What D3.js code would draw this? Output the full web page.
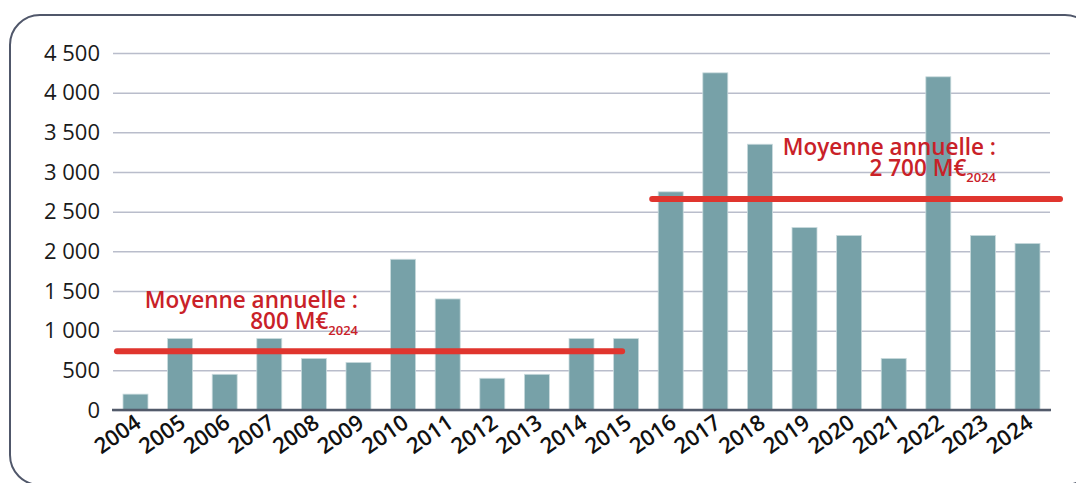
<!DOCTYPE html>
<html>
<head>
<meta charset="utf-8">
<script src="https://cdn.jsdelivr.net/npm/d3@7"></script>
<style>
  body { margin: 0; background: #fff; }
  svg { display: block; }
</style>
</head>
<body>
<div id="graph"></div>
<script>
var w = 1076;
var h = 483;

// data (M€ 2024)
var years = ["2004","2005","2006","2007","2008","2009","2010","2011","2012","2013","2014",
             "2015","2016","2017","2018","2019","2020","2021","2022","2023","2024"];
var values = [200, 900, 450, 900, 650, 600, 1900, 1400, 400, 450, 900,
              900, 2750, 4250, 3350, 2300, 2200, 650, 4200, 2200, 2100];
var yTicks = [0, 500, 1000, 1500, 2000, 2500, 3000, 3500, 4000, 4500];

// the two red average lines: first year, last year, drawn level
var avgFrom = ["2004", "2016"];
var avgTo = ["2015", "2024"];
var avgLevel = [740, 2660];
var avgLabel = ["800 M€", "2 700 M€"];

var plotLeft = 113, plotRight = 1050, plotTop = 53, plotBottom = 410;

var svg = d3.select("#graph").append("svg")
    .attr("width", w)
    .attr("height", h);

// rounded frame (its right and bottom edges run off the page)
svg.append("rect")
    .attr("x", 10).attr("y", 15)
    .attr("width", 1085).attr("height", 470)
    .attr("rx", 30).attr("ry", 30)
    .style("fill", "none")
    .style("stroke", "#50576a")
    .style("stroke-width", 2);

var x = d3.scaleBand()
    .domain(years)
    .range([plotLeft, plotRight])
    .paddingInner(0.44)
    .paddingOuter(0.224);

var y = d3.scaleLinear()
    .domain([0, 4500])
    .range([plotBottom, plotTop]);

// gridlines + y labels
var yAxis = d3.axisLeft(y)
    .tickValues(yTicks)
    .tickSize(-(plotRight - plotLeft))
    .tickPadding(13)
    .tickFormat(function(d){
        return d3.format(",")(d).replace(/,/g, " ");
    });

var gy = svg.append("g")
    .attr("transform", "translate(" + plotLeft + ",0)")
    .call(yAxis);
gy.select(".domain").remove();
gy.selectAll(".tick line")
    .style("stroke", "#b9bdcb")
    .style("stroke-width", 1.5);
gy.selectAll(".tick text")
    .style("font-family", "'Open Sans', sans-serif")
    .style("font-size", "22px")
    .style("fill", "#1a1a1a");

// bars
svg.selectAll(".bar")
    .data(years)
    .enter()
    .append("rect")
    .attr("class", "bar")
    .attr("x", function(d){ return x(d); })
    .attr("y", function(d, i){ return y(values[i]); })
    .attr("width", x.bandwidth())
    .attr("height", function(d, i){ return y(0) - y(values[i]); })
    .style("fill", "#77a1a8")
    .style("stroke", "#c9dadd")
    .style("stroke-width", 0.8);

// baseline
svg.append("line")
    .attr("x1", plotLeft - 1).attr("x2", plotRight + 1)
    .attr("y1", y(0)).attr("y2", y(0))
    .style("stroke", "#525a6a")
    .style("stroke-width", 2.5);

// x labels, rotated
svg.selectAll(".xlab")
    .data(years)
    .enter()
    .append("text")
    .attr("class", "xlab")
    .attr("transform", function(d){
        var cx = x(d) + x.bandwidth() / 2 + 7;
        return "translate(" + cx + "," + (plotBottom + 16) + ") rotate(-35)";
    })
    .attr("text-anchor", "end")
    .style("font-family", "'Open Sans', sans-serif")
    .style("font-size", "22px")
    .style("font-weight", 600)
    .style("fill", "#111")
    .text(function(d){ return d; });

// average lines
svg.selectAll(".avg")
    .data(avgLevel)
    .enter()
    .append("line")
    .attr("class", "avg")
    .attr("x1", function(d, i){ return x(avgFrom[i]) - 6; })
    .attr("x2", function(d, i){
        return i == 0 ? x(avgTo[i]) + x.bandwidth() / 2 - 4 : plotRight + 10;
    })
    .attr("y1", function(d){ return y(d); })
    .attr("y2", function(d){ return y(d); })
    .style("stroke", "#e0352e")
    .style("stroke-width", 6)
    .style("stroke-linecap", "round");

// average labels
var labelX = [358, 996];
var labelY = [308, 155];
avgLevel.forEach(function(d, i){
    svg.append("text")
        .attr("x", labelX[i])
        .attr("y", labelY[i])
        .attr("text-anchor", "end")
        .style("font-family", "'Open Sans', sans-serif")
        .style("font-size", "22.5px")
        .style("font-weight", 600)
        .style("fill", "#c92128")
        .text("Moyenne annuelle :");
    var t2 = svg.append("text")
        .attr("x", labelX[i])
        .attr("y", labelY[i] + 21)
        .attr("text-anchor", "end")
        .style("font-family", "'Open Sans', sans-serif")
        .style("font-weight", 600)
        .style("fill", "#c92128");
    t2.append("tspan")
        .style("font-size", "22.5px")
        .text(avgLabel[i]);
    t2.append("tspan")
        .attr("dy", 6)
        .style("font-size", "13px")
        .text("2024");
});
</script>
</body>
</html>
